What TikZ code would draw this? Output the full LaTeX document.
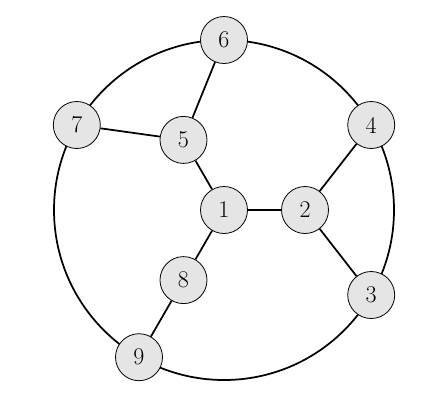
\documentclass[tikz,border=0pt]{standalone}
\begin{document}
\begin{tikzpicture}[x=0.75pt,y=-0.75pt,
  vtx/.style={circle,draw=black,line width=0.6pt,fill=black!10,minimum size=35.25pt,inner sep=0pt,font=\fontsize{18}{21}\selectfont},
  edge/.style={line width=1.3pt}]
\useasboundingbox (0,0) rectangle (448,408);
\coordinate (c) at (224,210);
\draw[edge] (c) circle[radius=127.5pt];
\node[vtx] (1) at (224,210) {1};
\node[vtx] (2) at (305,210) {2};
\node[vtx] (5) at (183.5,139.9) {5};
\node[vtx] (8) at (183.5,280.1) {8};
\node[vtx] (6) at (224,40) {6};
\node[vtx] (4) at (371.2,125) {4};
\node[vtx] (7) at (76.8,125) {7};
\node[vtx] (3) at (371.2,295) {3};
\node[vtx] (9) at (139,357.2) {9};
\draw[edge] (1) -- (2);
\draw[edge] (1) -- (5);
\draw[edge] (1) -- (8);
\draw[edge] (2) -- (4);
\draw[edge] (2) -- (3);
\draw[edge] (5) -- (6);
\draw[edge] (5) -- (7);
\draw[edge] (8) -- (9);
\end{tikzpicture}
\end{document}
